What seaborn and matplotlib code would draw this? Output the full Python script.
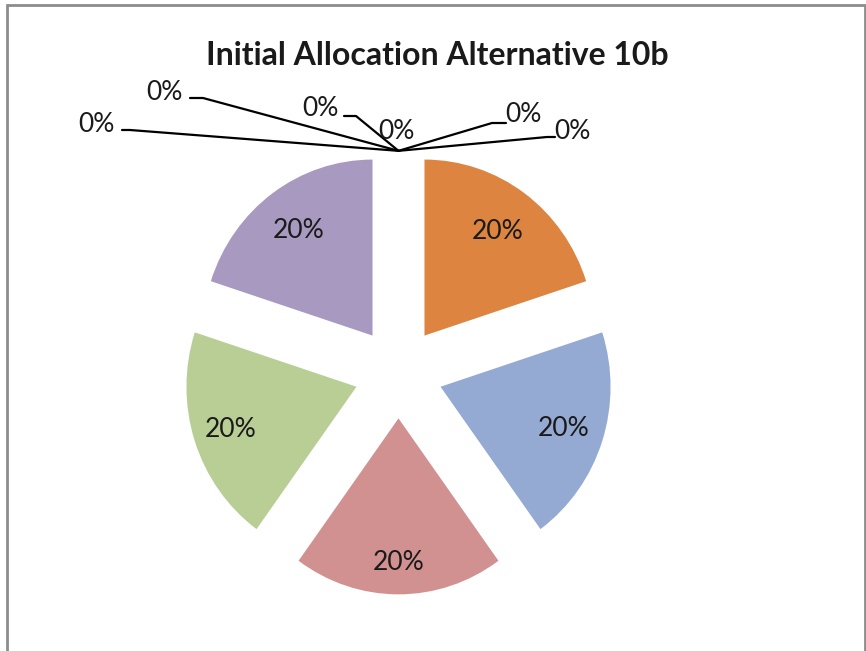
import numpy as np
import seaborn as sns
import matplotlib.pyplot as plt
from matplotlib.patches import Rectangle

# data
title = "Initial Allocation Alternative 10b"
categories = ["S1", "S2", "S3", "S4", "S5", "S6", "S7", "S8", "S9", "S10", "S11"]
values = [20, 20, 20, 20, 20, 0, 0, 0, 0, 0, 0]

colors = ["#DC8440", "#95AAD2", "#D29191", "#B9CE95", "#A899C0",
          "#4BACC6", "#4F81BD", "#C0504D", "#9BBB59", "#8064A2", "#F79646"]
label_dist = [0.73, 0.76, 0.82, 0.78, 0.74]

sns.set_theme(style="white")
plt.rcParams['font.family'] = ['Lato', 'DejaVu Sans']

W, H = 866, 651
cx, cy = 398.5, 372.6   # pixel centre of the pie
RX, RY = 170, 176       # pixels per unit (the original is slightly squashed)


def px(x, y):
    # pixel (from top-left) -> data coords
    return (x - cx) / RX, (cy - y) / RY


fig = plt.figure(figsize=(W / 100, H / 100), dpi=100)
ax = fig.add_axes([0, 0, 1, 1])
wedges, _ = ax.pie(values, colors=colors, explode=[0.26] * len(values),
                   startangle=90, counterclock=False, radius=1,
                   wedgeprops=dict(linewidth=0))
ax.set_aspect('auto')
ax.set_xlim(-cx / RX, (W - cx) / RX)
ax.set_ylim(-(H - cy) / RY, cy / RY)
ax.axis('off')

total = sum(values)
nz = [i for i, v in enumerate(values) if v > 0]
for k, i in enumerate(nz):
    w = wedges[i]
    mid = np.deg2rad((w.theta1 + w.theta2) / 2)
    x = w.center[0] + label_dist[k] * w.r * np.cos(mid)
    y = w.center[1] + label_dist[k] * w.r * np.sin(mid)
    ax.text(x, y, f"{values[i] / total * 100:.0f}%", ha='center', va='center',
            fontsize=19, color='#1a1a1a')

# zero slices: labels with leader lines to the exploded tip
zero = [i for i, v in enumerate(values) if v == 0]
w0 = wedges[zero[0]]
tip = (w0.center[0] + w0.r * np.cos(np.deg2rad(w0.theta1)),
       w0.center[1] + w0.r * np.sin(np.deg2rad(w0.theta1)))

# text centre, elbow, end of short horizontal (pixels); None = no leader
zero_layout = [
    ((96, 124), (130, 130), (122, 130)),
    ((164, 92), (203, 98), (190, 98)),
    ((320, 108), (356, 116), (344, 116)),
    ((396, 131), None, None),
    ((523, 114), (492, 123), (506, 123)),
    ((572, 131), (547, 137), (555, 137)),
]
for i, (tpos, elbow, end) in zip(zero, zero_layout):
    pct = values[i] / total * 100
    tx, ty = px(*tpos)
    ax.text(tx, ty, f"{pct:.0f}%", ha='center', va='center',
            fontsize=19, color='#1a1a1a')
    if elbow is not None:
        ex, ey = px(*elbow)
        nx, ny = px(*end)
        ax.plot([tip[0], ex, nx], [tip[1], ey, ny], color='black', lw=1.6,
                solid_joinstyle='round')

fig.text(437 / W, 1 - 65 / H, title, ha='center', va='baseline',
         fontsize=23, fontweight='bold', color='#1a1a1a')

fig.patches.append(Rectangle((7 / W, -0.05), (865 - 7) / W, (H - 5) / H + 0.05,
                             transform=fig.transFigure, fill=False,
                             edgecolor='#8c8c8c', lw=2))

fig.savefig('out.png', dpi=100)
